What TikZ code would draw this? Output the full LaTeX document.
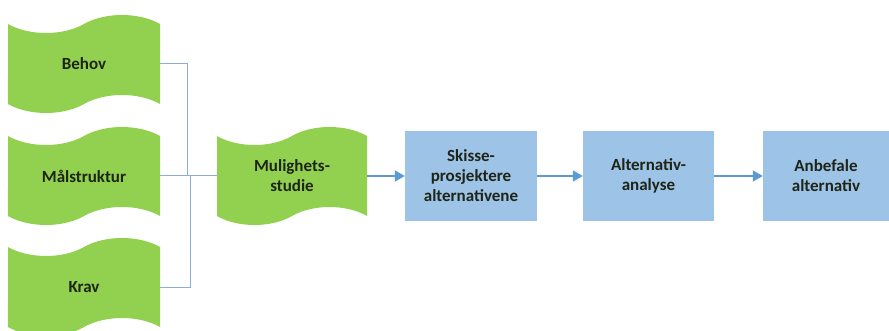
\documentclass[tikz,border=0pt]{standalone}
\usepackage{fontspec}
\setmainfont{Carlito}
\usetikzlibrary{shapes.symbols,arrows.meta}
\definecolor{leaf}{HTML}{92D050}
\definecolor{sky}{HTML}{9DC3E6}
\definecolor{flow}{HTML}{5B9BD5}
\definecolor{link}{HTML}{8FAADC}
\definecolor{ink}{HTML}{1E2418}
\begin{document}
\begin{tikzpicture}[x=1pt,y=-1pt,
  tapebox/.style={tape, fill=leaf, draw=none, minimum width=152pt,
    minimum height=98pt, tape bend height=18pt, inner sep=0pt,
    align=center, text=ink, font=\fontsize{17}{20}\selectfont\bfseries},
  stepbox/.style={rectangle, fill=sky, draw=none, minimum height=90pt,
    inner sep=0pt, align=center, text=ink,
    font=\fontsize{17}{20}\selectfont\bfseries},
  feed/.style={draw=link, line width=1pt},
  flowarrow/.style={draw=flow, line width=1.5pt,
    -{Triangle[length=10pt,width=11pt]}}]
  \useasboundingbox (0,0) rectangle (889,331);

  % inputs
  \node[tapebox] (behov) at (84,64) {Behov};
  \node[tapebox] (maal)  at (84,176) {Målstruktur};
  \node[tapebox] (krav)  at (84,287) {Krav};

  % feasibility study
  \node[tapebox, minimum width=150pt] (mul) at (292,176) {Mulighets-\\studie};

  % process steps
  \node[stepbox, minimum width=132pt] (skisse) at (471,176) {Skisse-\\prosjektere\\alternativene};
  \node[stepbox, minimum width=131pt] (analyse) at (648.5,176) {Alternativ-\\analyse};
  \node[stepbox, minimum width=126pt] (anbefal) at (826,176) {Anbefale\\alternativ};

  % junctions of the feed lines
  \coordinate (jointA) at (187,176);
  \coordinate (jointB) at (190,176);

  \draw[feed] (behov.east) -| (jointA) -- (mul.west);
  \draw[feed] (maal.east) -- (mul.west);
  \draw[feed] (krav.east) -| (jointB) -- (mul.west);

  \draw[flowarrow] (mul.east) -- (skisse.west);
  \draw[flowarrow] (skisse.east) -- (analyse.west);
  \draw[flowarrow] (analyse.east) -- (anbefal.west);
\end{tikzpicture}
\end{document}
